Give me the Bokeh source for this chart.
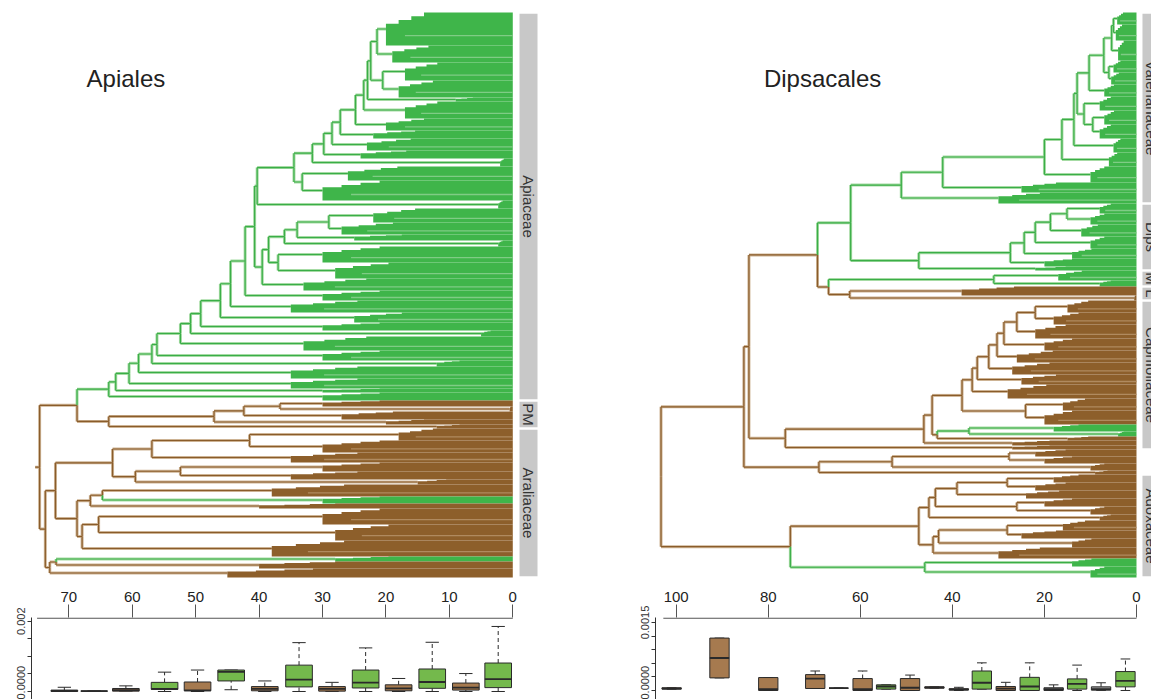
import numpy as np
from bokeh.plotting import figure
from bokeh.layouts import row, column
from bokeh.models import Range1d, FixedTicker
from bokeh.core.properties import value
from bokeh.embed import file_html
from bokeh.resources import INLINE

# ---------------- Apiales tree: lineages listed top -> bottom ----------------
# size = relative number of species in lineage, crown = age (Ma) where lineage fans out,
# div = age (Ma) of split between lineage i and lineage i+1, col = ancestral state (g/b)
api_size = [33, 17, 18, 17, 4, 17, 12, 8, 12, 8, 8, 14, 20, 8, 14, 12, 6, 6, 16, 16, 12, 10, 12, 10, 8,
            6, 14, 10, 6, 12, 10, 4, 8,
            6, 5, 8, 5, 4,
            12, 12, 10, 9, 8, 5, 12, 7, 5, 16, 16, 16, 5, 7, 9]
api_crown = [20, 19, 17, 18, 9, 17, 20, 22, 23, 24, 2, 26, 30, 2.3, 22, 27, 25, 2.3, 30, 28, 33, 30, 35, 25, 30,
             5, 33, 30, 12, 35, 35, 30, 30,
             30, 0.5, 27, 20, 12,
             18, 30, 35, 30, 35, 15, 38, 30, 40, 30, 28, 38, 28, 40, 45]
api_div = [21.4, 22.4, 20.5, 22.9, 23.5, 24.8, 27.2, 28.5, 29.8, 31.6, 34.5, 33.2, 40.3, 40.7, 29.0, 34.0,
           36.0, 38.5, 37.0, 39.5, 42.2, 44.5, 46.1, 49.2, 50.8, 52.4, 56.1, 56.9, 59.0, 60.5, 62.6, 63.7,
           68.7,
           36.7, 42.4, 47.1, 63.7,
           74.6,
           41.5, 56.9, 63.1, 52.4, 59.5, 72.1, 64.7, 66.6, 68.7, 65.3, 67.9, 73.7, 72.0, 73.0]
api_col = "g" * 33 + "b" * 12 + "g" + "b" * 4 + "g" + "b" * 2
api_families = ["Apiaceae", "PM", "Araliaceae"]
api_fam_span = [(0, 32), (33, 37), (38, 52)]

# ---------------- Dipsacales tree ----------------
dip_size = [12, 16, 20, 12, 12, 12, 14, 14, 14, 14, 14, 16, 10, 11,
            10, 11, 12, 12, 10, 8, 4,
            10, 6, 9, 5,
            12, 12, 14, 12, 12, 12, 10, 14, 12, 14, 7, 5, 4, 5, 4,
            7, 7, 7, 4,
            8, 8, 8, 8, 8, 6, 10, 8, 9, 11, 8, 11]
dip_crown = [4.2, 4.5, 4, 5, 5.5, 7, 8, 7, 8, 5, 6, 10, 25, 30,
             8, 10, 12, 10, 14, 20, 22,
             17, 8, 38, 0.5,
             15, 18, 22, 20, 26, 27, 25, 28, 16, 20, 18, 4, 15, 27, 27,
             22, 20, 10, 9,
             18, 22, 24, 20, 10, 8, 16, 25, 14, 30, 14, 10]
dip_div = [5.0, 5.4, 7.1, 6.0, 10.3, 12.9, 11.4, 9.5, 13.6, 16.2, 20.0, 42.1, 51.1, 62.1,
           15.1, 18.7, 22.0, 24.4, 27.4, 47.3, 69.3, 31.0, 66.9, 62.3, 84.2,
           22.0, 26.0, 28.8, 30.3, 32.1, 34.6, 35.7, 37.9, 24.1, 44.4, 36.4, 43.3, 46.2, 76.3, 85.3,
           27.7, 53.1, 69.0, 103.3,
           28.1, 39.0, 43.7, 26.0, 45.1, 47.3, 28.1, 43.0, 44.2, 75.2, 46.0]
dip_col = "g" * 23 + "b" * 12 + "g" * 2 + "b" * 17 + "g" * 2
dip_families = ["Valerianaceae", "Dips", "M", "L", "Caprifoliaceae", "Adoxaceae"]
dip_fam_span = [(0, 13), (14, 20), (21, 22), (23, 24), (25, 39), (44, 55)]

# ---------------- time axes ----------------
api_ticks = [70, 60, 50, 40, 30, 20, 10, 0]
dip_ticks = [100, 80, 60, 40, 20, 0]

# ---------------- boxplots (rates per time bin) ----------------
api_bin = [70.7, 66.0, 61.0, 54.9, 49.7, 44.4, 39.1, 33.7, 28.5, 23.2, 18.0, 12.7, 7.4, 2.3]
api_bcol = "bbbgbgbgbgbgbg"
api_lo = [0, 0.00001, 0.00001, 0, 0, 0.00005, 0, 0, 0, 0, 0, 0, 0, 0]
api_q1 = [0, 0.00001, 0.00001, 0.00006, 0.00002, 0.0003, 0.00002, 0.00013, 0.00001, 0.0001, 0.00002, 0.00009, 0.00004, 0.00011]
api_med = [0.00002, 0.00001, 0.00004, 0.000075, 0.00003, 0.00056, 0.000075, 0.00034, 0.000075, 0.00025, 0.00009, 0.00027, 0.00011, 0.00035]
api_q3 = [0.00004, 0.00001, 0.000085, 0.00026, 0.00027, 0.00061, 0.00014, 0.00075, 0.00014, 0.00061, 0.00019, 0.00064, 0.00024, 0.00081]
api_hi = [0.00012, 0.00001, 0.00016, 0.00055, 0.00061, 0.00061, 0.0003, 0.00139, 0.00026, 0.00124, 0.00037, 0.0014, 0.00051, 0.00185]
api_yticks = [0.0, 0.0005, 0.001, 0.0015, 0.002]
api_ylabels = ["0.0000", "", "", "", "0.002"]

dip_bin = [101.0, 90.6, 80.0, 69.8, 64.7, 59.5, 54.4, 49.2, 43.9, 38.6, 33.6, 28.4, 23.2, 18.0, 12.9, 7.7, 2.4]
dip_bcol = "bbbbbbgbbbgbgxgxg"
dip_lo = [0.00003, 0.000278, 0, 0.000044, 0.00005, 0, 0.00003, 0, 0.00005, 0, 0.00003, 0, 0, 0, 0, 0, 0]
dip_q1 = [0.00003, 0.000278, 0, 0.000044, 0.00005, 0, 0.00003, 0, 0.00005, 0.00001, 0.00003, 0, 0, 0, 0.00003, 0.000007, 0.00008]
dip_med = [0.00004, 0.000717, 0.00003, 0.000263, 0.00005, 0.00003, 0.000088, 0.00006, 0.00007, 0.00002, 0.00017, 0.00004, 0.000088, 0.00003, 0.000146, 0.00003, 0.000212]
dip_q3 = [0.00006, 0.001156, 0.000285, 0.00035, 0.00005, 0.000263, 0.000124, 0.000263, 0.00008, 0.00004, 0.00043, 0.000088, 0.00029, 0.00006, 0.000256, 0.00008, 0.000417]
dip_hi = [0.00006, 0.001156, 0.000285, 0.00043, 0.00005, 0.00043, 0.000124, 0.00034, 0.00008, 0.00007, 0.00061, 0.00018, 0.00061, 0.000124, 0.00056, 0.00017, 0.000695]
dip_yticks = [0.0, 0.0003, 0.0006, 0.0009, 0.0012, 0.0015]
dip_ylabels = ["0.0000", "", "", "", "", "0.0015"]

# ---------------- styles ----------------
FONT = "Liberation Sans"
LINE = {"g": "#3aae47", "b": "#8a5c2a"}
HALO = {"g": "#a6dba4", "b": "#cdb394"}
FILL = {"g": "#3fb54a", "b": "#8d5f2b"}
STREAK = {"g": "#7fcc85", "b": "#b08a5f"}
BOX_FILL = {"g": "#74b94c", "b": "#a67a4f", "x": "#9c9c9c"}
TOPF = 0.7
STEPS = 4


def layout_tree(size, crown, div, col):
    size = np.asarray(size, float)
    top = np.concatenate([[0.0], np.cumsum(size)[:-1]])
    yc = top + size / 2
    H, V = [], []

    def rec(lo, hi):
        if lo == hi:
            return crown[lo], yc[lo], col[lo]
        k = lo + int(np.argmax(div[lo:hi]))
        age = div[k]
        a1, y1, c1 = rec(lo, k)
        a2, y2, c2 = rec(k + 1, hi)
        y = (y1 + y2) / 2
        for a, yy, c in ((a1, y1, c1), (a2, y2, c2)):
            H.append((age, a, yy, c))
            V.append((age, y, yy, c))
        return age, y, ("g" if (c1 == "g" and c2 == "g") else "b")

    root = rec(0, len(size) - 1)
    return top, size, H, V, root


def draw_tree(p, size, crown, div, col, stub=0.0):
    top, size, H, V, root = layout_tree(size, crown, div, col)
    segs = [(a0, y, a1, y, c) for (a0, a1, y, c) in H] + [(a, y0, a, y1, c) for (a, y0, y1, c) in V]
    if stub > 0:
        segs.append((root[0] + stub, root[1], root[0], root[1], root[2]))
    x0 = [s[0] for s in segs]; y0 = [s[1] for s in segs]
    x1 = [s[2] for s in segs]; y1 = [s[3] for s in segs]
    p.segment(x0=x0, y0=y0, x1=x1, y1=y1, line_color=[HALO[s[4]] for s in segs], line_width=3)
    p.segment(x0=x0, y0=y0, x1=x1, y1=y1, line_color=[LINE[s[4]] for s in segs], line_width=1.2)
    # each lineage fans out as a ladderised block (staircase outline)
    xs, ys, fc = [], [], []
    sx0, sx1, sy, sc = [], [], [], []
    for t, h, c, k in zip(top, size, crown, col):
        px, py = [0.0], [t]
        ladder = np.linspace(TOPF * c, c, STEPS)
        step = 0.45 * h / STEPS
        for j, a in enumerate(ladder):
            px += [a, a]
            py += [t + j * step, t + (j + 1) * step]
        px += [c, 0.0]
        py += [t + h, t + h]
        xs.append(px); ys.append(py); fc.append(FILL[k])
        if h >= 10:
            sx0.append(0.0); sx1.append(0.85 * c); sy.append(t + 0.7 * h); sc.append(STREAK[k])
    p.patches(xs=xs, ys=ys, fill_color=fc, line_color=None)
    p.segment(x0=sx0, y0=sy, x1=sx1, y1=sy, line_color=sc, line_width=1.3)
    return top, size


def tree_fig(width, xr, mb_left, mb_right):
    p = figure(width=width, height=582, x_range=Range1d(*xr), y_range=Range1d(570, -12),
               output_backend="svg", toolbar_location=None, min_border_left=mb_left,
               min_border_right=mb_right, min_border_top=0, min_border_bottom=0)
    p.axis.visible = False
    p.grid.visible = False
    p.outline_line_color = None
    return p


def add_bars(p, top, size, fams, spans, bx0, bx1, fsize):
    for name, (a, b) in zip(fams, spans):
        y0 = top[a] + 1.2
        y1 = top[b] + size[b] - 1.2
        p.quad(left=bx0, right=bx1, top=y0, bottom=y1, fill_color="#c8c8c8", line_color=None)
        p.text(x=[(bx0 + bx1) / 2], y=[(y0 + y1) / 2], text=[name], angle=-np.pi / 2,
               text_align="center", text_baseline="middle", text_font=value(FONT),
               text_font_size=fsize, text_color="#333333")


def box_fig(width, xr, mb_left, mb_right, ticks, y_lo, y_hi, yticks, ylabels, line_from):
    p = figure(width=width, height=117, x_range=Range1d(*xr), y_range=Range1d(y_lo, y_hi),
               output_backend="svg", toolbar_location=None, x_axis_location="above",
               min_border_left=mb_left, min_border_right=mb_right, min_border_top=35, min_border_bottom=0)
    p.grid.visible = False
    p.outline_line_color = None
    xa = p.xaxis[0]
    xa.ticker = FixedTicker(ticks=ticks)
    xa.major_tick_out = 13
    xa.major_tick_in = 0
    xa.minor_tick_line_color = None
    xa.axis_line_color = None
    xa.major_tick_line_color = "#555555"
    xa.major_label_text_font = FONT
    xa.major_label_text_font_size = "15px"
    xa.major_label_text_color = "#222222"
    xa.major_label_standoff = 3
    # axis baseline only from the oldest shown age to the present, as in the original
    eps = (y_hi - y_lo) / 82 * 0.6
    p.segment(x0=[line_from], y0=[y_hi - eps], x1=[0], y1=[y_hi - eps], line_color="#555555", line_width=1.2)
    ya = p.yaxis[0]
    ya.ticker = FixedTicker(ticks=yticks)
    ya.major_label_overrides = {t: l for t, l in zip(yticks, ylabels)}
    ya.major_label_orientation = "vertical"
    ya.major_tick_out = 4
    ya.major_tick_in = 0
    ya.minor_tick_line_color = None
    ya.axis_line_color = "#333333"
    ya.major_tick_line_color = "#333333"
    ya.major_label_text_font = FONT
    ya.major_label_text_font_size = "11px"
    ya.major_label_text_color = "#333333"
    ya.major_label_standoff = 2
    return p


def draw_boxes(p, x, lo, q1, med, q3, hi, cols, w):
    x = np.asarray(x, float)
    edge = "#2a2a2a"
    p.segment(x0=x, y0=q3, x1=x, y1=hi, line_color=edge, line_dash="4 3", line_width=1)
    p.segment(x0=x, y0=lo, x1=x, y1=q1, line_color=edge, line_dash="4 3", line_width=1)
    p.segment(x0=x - w / 4, y0=hi, x1=x + w / 4, y1=hi, line_color=edge, line_width=1)
    p.segment(x0=x - w / 4, y0=lo, x1=x + w / 4, y1=lo, line_color=edge, line_width=1)
    p.vbar(x=x, width=w, bottom=q1, top=q3, fill_color=[BOX_FILL[c] for c in cols],
           line_color=edge, line_width=1)
    p.segment(x0=x - w / 2, y0=med, x1=x + w / 2, y1=med, line_color=edge, line_width=1.8)


# ---------------- left: Apiales ----------------
LX = (75.88, -4.37)
tl = tree_fig(620, LX, 31, 80)
t_top, t_size = draw_tree(tl, api_size, api_crown, api_div, api_col, stub=0.7)
add_bars(tl, t_top, t_size, api_families, api_fam_span, -1.06, -3.9, "15px")
tl.text(x=[61.0], y=[66], text=["Apiales"], text_align="center", text_baseline="middle",
        text_font=value(FONT), text_font_size="24px", text_color="#222222")

bl = box_fig(620, LX, 31, 80, api_ticks, -0.000228, 0.002105, api_yticks, api_ylabels, 75.0)
draw_boxes(bl, api_bin, api_lo, api_q1, api_med, api_q3, api_hi, api_bcol, 4.2)

# ---------------- right: Dipsacales ----------------
RX = (104.5, -3.26)
tr = tree_fig(531, RX, 35, 0)
r_top, r_size = draw_tree(tr, dip_size, dip_crown, dip_div, dip_col)
add_bars(tr, r_top, r_size, dip_families, dip_fam_span, -1.3, -5.2, "15px")
tr.text(x=[68.2], y=[66], text=["Dipsacales"], text_align="center", text_baseline="middle",
        text_font=value(FONT), text_font_size="24px", text_color="#222222")

br = box_fig(531, RX, 35, 0, dip_ticks, -0.000199, 0.00161, dip_yticks, dip_ylabels, 102.8)
draw_boxes(br, dip_bin, dip_lo, dip_q1, dip_med, dip_q3, dip_hi, dip_bcol, 4.2)

layout = row(column(tl, bl), column(tr, br))
open("out.html", "w").write(file_html(layout, INLINE))
